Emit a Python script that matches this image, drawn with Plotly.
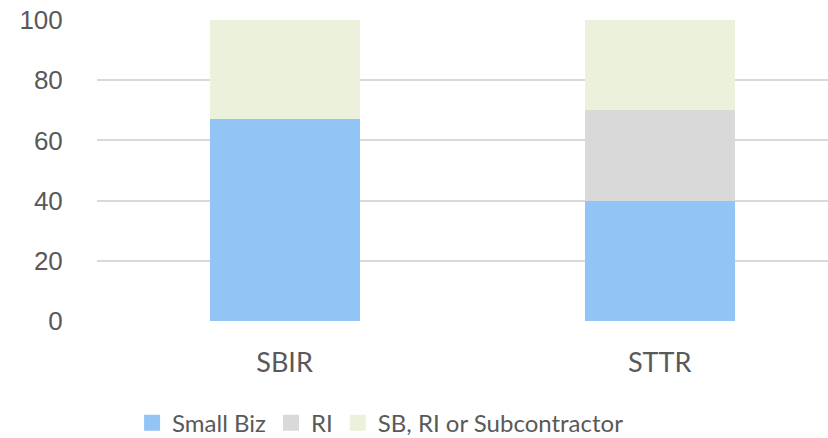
import plotly.graph_objects as go

categories = ["SBIR", "STTR"]
small_biz = [67, 40]
ri = [0, 30]
sb_ri_sub = [33, 30]
y_ticks = [0, 20, 40, 60, 80, 100]

series = [("Small Biz", small_biz, "#92C5F5"),
          ("RI", ri, "#D9D9D9"),
          ("SB, RI or Subcontractor", sb_ri_sub, "#EBF1DA")]

fig = go.Figure()
for name, vals, col in series:
    fig.add_trace(go.Bar(x=categories, y=vals, name=name, marker=dict(color=col, line=dict(width=0)),
                         width=0.4, showlegend=False, legendgroup=name))
for name, vals, col in series:
    fig.add_trace(go.Scatter(x=[None], y=[None], mode="markers", name=name, legendgroup=name,
                             marker=dict(symbol="square", size=17, color=col)))

fig.update_layout(
    barmode="stack",
    width=828, height=438,
    margin=dict(l=97, r=0, t=19.5, b=116.5, autoexpand=False),
    plot_bgcolor="white", paper_bgcolor="white",
    font=dict(family="Lato", color="#595959", size=26),
    showlegend=True,
    legend=dict(orientation="h", x=0.048, xanchor="left", y=-0.339, yanchor="middle",
                font=dict(size=24, family="Lato", color="#595959"),
                itemwidth=30, traceorder="normal", bgcolor="rgba(0,0,0,0)"),
    bargap=0,
)
fig.update_xaxes(range=[-0.5, 1.449], showgrid=False, showline=False, zeroline=False, automargin=False,
                 ticks="outside", ticklen=18, tickcolor="rgba(0,0,0,0)",
                 tickfont=dict(family="Lato", size=27, color="#595959"))
fig.update_yaxes(range=[0, 100], tickvals=y_ticks, showgrid=True, gridcolor="#D9D9D9", gridwidth=1.5,
                 zeroline=False, showline=False, automargin=False, ticks="outside", ticklen=28,
                 tickcolor="rgba(0,0,0,0)", ticklabeloverflow="allow",
                 tickfont=dict(family="Liberation Sans", size=26, color="#595959"))

fig.write_html("out.html", config={"displayModeBar": False},
               post_script="document.body.style.margin='0px';")
